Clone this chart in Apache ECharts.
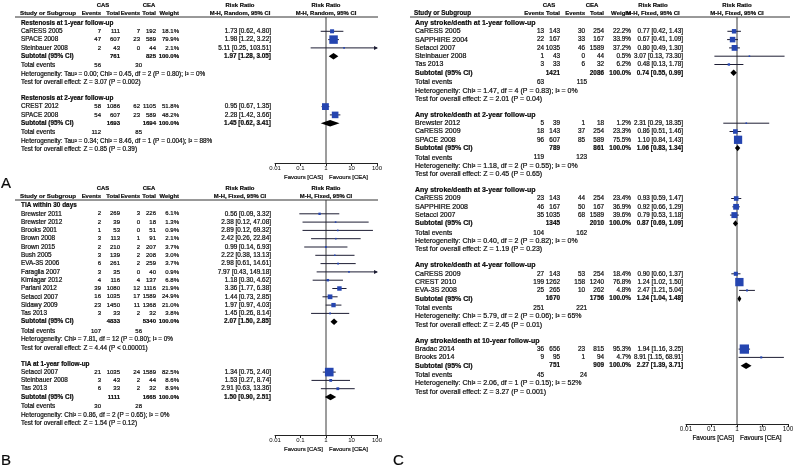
<!DOCTYPE html>
<html><head><meta charset="utf-8">
<script src="https://cdn.jsdelivr.net/npm/echarts@6/dist/echarts.min.js"></script>
<style>html,body{margin:0;padding:0;background:#fff}#c{width:800px;height:469px}</style>
</head><body><div id="c"></div>
<script>
// ---------------- DATA ----------------
// row: [study, CAS events, CAS total, CEA events, CEA total, weight %, RR, lower, upper]
// subtotal: [CAS total, CEA total, weight %, RR, lower, upper]; events: [CAS, CEA]
const axisTicks = [0.01, 0.1, 1, 10, 100];
const tickLabels = ["0.01", "0.1", "1", "10", "100"];

// Panel A — Restenosis (M-H, Random)
const restenosis1y = [
  ["CaRESS 2005", 7, 111, 7, 192, 18.1, 1.73, 0.62, 4.80],
  ["SPACE 2008", 47, 607, 23, 589, 79.9, 1.98, 1.22, 3.22],
  ["Steinbauer 2008", 2, 43, 0, 44, 2.1, 5.11, 0.25, 103.51]
];
const restenosis1ySub = [761, 825, 100.0, 1.97, 1.28, 3.05];
const restenosis1yEv = [56, 30];
const restenosis1yStats = ["Heterogeneity: Tau² = 0.00; Chi² = 0.45, df = 2 (P = 0.80); I² = 0%", "Test for overall effect: Z = 3.07 (P = 0.002)"];

const restenosis2y = [
  ["CREST 2012", 58, 1086, 62, 1105, 51.8, 0.95, 0.67, 1.35],
  ["SPACE 2008", 54, 607, 23, 589, 48.2, 2.28, 1.42, 3.66]
];
const restenosis2ySub = [1693, 1694, 100.0, 1.45, 0.62, 3.41];
const restenosis2yEv = [112, 85];
const restenosis2yStats = ["Heterogeneity: Tau² = 0.34; Chi² = 8.46, df = 1 (P = 0.004); I² = 88%", "Test for overall effect: Z = 0.85 (P = 0.39)"];

// Panel B — TIA (M-H, Fixed)
const tia30d = [
  ["Brewster 2011", 2, 269, 3, 226, 6.1, 0.56, 0.09, 3.32],
  ["Brewster 2012", 2, 39, 0, 18, 1.3, 2.38, 0.12, 47.08],
  ["Brooks 2001", 1, 53, 0, 51, 0.9, 2.89, 0.12, 69.32],
  ["Brown 2008", 3, 113, 1, 91, 2.1, 2.42, 0.26, 22.84],
  ["Brown 2015", 2, 210, 2, 207, 3.7, 0.99, 0.14, 6.93],
  ["Bush 2005", 3, 139, 2, 208, 3.0, 2.22, 0.38, 13.13],
  ["EVA-3S 2006", 6, 261, 2, 259, 3.7, 2.98, 0.61, 14.61],
  ["Faraglia 2007", 3, 35, 0, 40, 0.9, 7.97, 0.43, 149.18],
  ["Kimiagar 2012", 4, 116, 4, 137, 6.8, 1.18, 0.30, 4.62],
  ["Parlani 2012", 39, 1080, 12, 1116, 21.9, 3.36, 1.77, 6.38],
  ["Setacci 2007", 16, 1035, 17, 1589, 24.9, 1.44, 0.73, 2.85],
  ["Sidawy 2009", 23, 1450, 11, 1368, 21.0, 1.97, 0.97, 4.03],
  ["Tas 2013", 3, 33, 2, 32, 3.8, 1.45, 0.26, 8.14]
];
const tia30dSub = [4833, 5340, 100.0, 2.07, 1.50, 2.85];
const tia30dEv = [107, 56];
const tia30dStats = ["Heterogeneity: Chi² = 7.81, df = 12 (P = 0.80); I² = 0%", "Test for overall effect: Z = 4.44 (P < 0.00001)"];

const tia1y = [
  ["Setacci 2007", 21, 1035, 24, 1589, 82.5, 1.34, 0.75, 2.40],
  ["Steinbauer 2008", 3, 43, 2, 44, 8.6, 1.53, 0.27, 8.74],
  ["Tas 2013", 6, 33, 2, 32, 8.9, 2.91, 0.63, 13.36]
];
const tia1ySub = [1111, 1665, 100.0, 1.50, 0.90, 2.51];
const tia1yEv = [30, 28];
const tia1yStats = ["Heterogeneity: Chi² = 0.86, df = 2 (P = 0.65); I² = 0%", "Test for overall effect: Z = 1.54 (P = 0.12)"];

// Panel C — Any stroke/death (M-H, Fixed)
const sd1y = [
  ["CaRESS 2005", 13, 143, 30, 254, 22.2, 0.77, 0.42, 1.43],
  ["SAPPHIRE 2004", 22, 167, 33, 167, 33.9, 0.67, 0.41, 1.09],
  ["Setacci 2007", 24, 1035, 46, 1589, 37.2, 0.80, 0.49, 1.30],
  ["Steinbauer 2008", 1, 43, 0, 44, 0.5, 3.07, 0.13, 73.30],
  ["Tas 2013", 3, 33, 6, 32, 6.2, 0.48, 0.13, 1.78]
];
const sd1ySub = [1421, 2086, 100.0, 0.74, 0.55, 0.99];
const sd1yEv = [63, 115];
const sd1yStats = ["Heterogeneity: Chi² = 1.47, df = 4 (P = 0.83); I² = 0%", "Test for overall effect: Z = 2.01 (P = 0.04)"];

const sd2y = [
  ["Brewster 2012", 5, 39, 1, 18, 1.2, 2.31, 0.29, 18.35],
  ["CaRESS 2009", 18, 143, 37, 254, 23.3, 0.86, 0.51, 1.46],
  ["SPACE 2008", 96, 607, 85, 589, 75.5, 1.10, 0.84, 1.43]
];
const sd2ySub = [789, 861, 100.0, 1.06, 0.83, 1.34];
const sd2yEv = [119, 123];
const sd2yStats = ["Heterogeneity: Chi² = 1.18, df = 2 (P = 0.55); I² = 0%", "Test for overall effect: Z = 0.45 (P = 0.65)"];

const sd3y = [
  ["CaRESS 2009", 23, 143, 44, 254, 23.4, 0.93, 0.59, 1.47],
  ["SAPPHIRE 2008", 46, 167, 50, 167, 36.9, 0.92, 0.66, 1.29],
  ["Setacci 2007", 35, 1035, 68, 1589, 39.6, 0.79, 0.53, 1.18]
];
const sd3ySub = [1345, 2010, 100.0, 0.87, 0.69, 1.09];
const sd3yEv = [104, 162];
const sd3yStats = ["Heterogeneity: Chi² = 0.40, df = 2 (P = 0.82); I² = 0%", "Test for overall effect: Z = 1.19 (P = 0.23)"];

const sd4y = [
  ["CaRESS 2009", 27, 143, 53, 254, 18.4, 0.90, 0.60, 1.37],
  ["CREST 2010", 199, 1262, 158, 1240, 76.8, 1.24, 1.02, 1.50],
  ["EVA-3S 2008", 25, 265, 10, 262, 4.8, 2.47, 1.21, 5.04]
];
const sd4ySub = [1670, 1756, 100.0, 1.24, 1.04, 1.48];
const sd4yEv = [251, 221];
const sd4yStats = ["Heterogeneity: Chi² = 5.79, df = 2 (P = 0.06); I² = 65%", "Test for overall effect: Z = 2.45 (P = 0.01)"];

const sd10y = [
  ["Bradac 2014", 36, 656, 23, 815, 95.3, 1.94, 1.16, 3.25],
  ["Brooks 2014", 9, 95, 1, 94, 4.7, 8.91, 1.15, 68.91]
];
const sd10ySub = [751, 909, 100.0, 2.27, 1.39, 3.71];
const sd10yEv = [45, 24];
const sd10yStats = ["Heterogeneity: Chi² = 2.06, df = 1 (P = 0.15); I² = 52%", "Test for overall effect: Z = 3.27 (P = 0.001)"];

// ---------------- LAYOUT ----------------
const FONT = '"Liberation Sans", Arial, sans-serif';
const INK = '#0a0a0a';
const ROW = 8.3, SUBGAP = 9.5, GAP = 16;
const colsL = { name: 21, casEv: 101, casTot: 120, ceaEv: 140, ceaTot: 156, wt: 179, rr: 271, cas: 103, cea: 149, rrHead: 240,
  plotL: 275, plotR: 377, lineL: 15, lineR: 378, fs: 6.4, nfs: 6.0, rfs: 6.4, hfs: 5.9 };
const colsR = { name: 415, casEv: 544, casTot: 560, ceaEv: 585, ceaTot: 604, wt: 631, rr: 683, cas: 549, cea: 592, rrHead: 653,
  plotL: 686, plotR: 788, lineL: 410, lineR: 790, fs: 7.0, nfs: 6.4, rfs: 6.3, hfs: 6.0 };

const panels = [
  { cols: colsL, method: "M-H, Random, 95% CI", headY: 5, subY: 13.3, lineY: 17, firstY: 23, axisY: 163,
    groups: [
      { title: "Restenosis at 1-year follow-up", rows: restenosis1y, sub: restenosis1ySub, ev: restenosis1yEv, stats: restenosis1yStats },
      { title: "Restenosis at 2-year follow-up", rows: restenosis2y, sub: restenosis2ySub, ev: restenosis2yEv, stats: restenosis2yStats }
    ] },
  { cols: colsL, method: "M-H, Fixed, 95% CI", headY: 188, subY: 196.3, lineY: 200, firstY: 205.5, axisY: 435,
    groups: [
      { title: "TIA within 30 days", rows: tia30d, sub: tia30dSub, ev: tia30dEv, stats: tia30dStats },
      { title: "TIA at 1-year follow-up", rows: tia1y, sub: tia1ySub, ev: tia1yEv, stats: tia1yStats }
    ] },
  { cols: colsR, method: "M-H, Fixed, 95% CI", headY: 5, subY: 13.3, lineY: 17, firstY: 23, axisY: 424,
    groups: [
      { title: "Any stroke/death at 1-year follow-up", rows: sd1y, sub: sd1ySub, ev: sd1yEv, stats: sd1yStats },
      { title: "Any stroke/death at 2-year follow-up", rows: sd2y, sub: sd2ySub, ev: sd2yEv, stats: sd2yStats },
      { title: "Any stroke/death at 3-year follow-up", rows: sd3y, sub: sd3ySub, ev: sd3yEv, stats: sd3yStats },
      { title: "Any stroke/death at 4-year follow-up", rows: sd4y, sub: sd4ySub, ev: sd4yEv, stats: sd4yStats },
      { title: "Any stroke/death at 10-year follow-up", rows: sd10y, sub: sd10ySub, ev: sd10yEv, stats: sd10yStats }
    ] }
];

// ---------------- BUILD ----------------
const graphics = [];
const grids = [], xAxes = [], yAxes = [], series = [];

function txt(x, y, text, align, bold, fs) {
  graphics.push({
    type: 'text', x: x, y: y, silent: true, z: 10,
    style: { text: String(text), textAlign: align, align: align, textVerticalAlign: 'middle', verticalAlign: 'middle',
      font: (bold ? 'bold ' : '') + fs + 'px ' + FONT, fill: INK, stroke: INK, lineWidth: 0.2 }
  });
}
const ci = (rr, lo, hi) => rr.toFixed(2) + ' [' + lo.toFixed(2) + ', ' + hi.toFixed(2) + ']';

function renderForest(params, api) {
  const est = api.value(0), lo = api.value(1), hi = api.value(2), y = api.value(3), w = api.value(4), kind = api.value(5);
  const pE = api.coord([est, y]);
  const pL = api.coord([Math.max(lo, axisTicks[0]), y]);
  const pH = api.coord([Math.min(hi, axisTicks[axisTicks.length - 1]), y]);
  const yy = pE[1];
  const ch = [];
  if (kind === 0) {
    ch.push({ type: 'line', shape: { x1: pL[0], y1: yy, x2: pH[0], y2: yy }, style: { stroke: '#1d1d33', lineWidth: 1 } });
    if (hi > axisTicks[axisTicks.length - 1]) {
      ch.push({ type: 'polygon', shape: { points: [[pH[0] + 1, yy], [pH[0] - 3, yy - 2], [pH[0] - 3, yy + 2]] }, style: { fill: '#1d1d33' } });
    }
    const s = Math.max(1.6, 0.95 * Math.sqrt(w));
    ch.push({ type: 'rect', shape: { x: pE[0] - s / 2, y: yy - s / 2, width: s, height: s }, style: { fill: '#2545b0' } });
  } else {
    ch.push({ type: 'polygon', shape: { points: [[pL[0], yy], [pE[0], yy - 3.2], [pH[0], yy], [pE[0], yy + 3.2]] }, style: { fill: '#000' } });
  }
  return { type: 'group', children: ch };
}

panels.forEach((p, gi) => {
  const c = p.cols, fs = c.fs, nfs = c.nfs, rfs = c.rfs, hfs = c.hfs;
  const xOne = (c.plotL + c.plotR) / 2;
  // headers
  txt(c.cas, p.headY, 'CAS', 'center', true, hfs);
  txt(c.cea, p.headY, 'CEA', 'center', true, hfs);
  txt(c.rrHead, p.headY, 'Risk Ratio', 'center', true, hfs);
  txt(xOne, p.headY, 'Risk Ratio', 'center', true, hfs);
  txt(c.name - 1, p.subY, 'Study or Subgroup', 'left', true, hfs + 0.3);
  txt(c.casEv, p.subY, 'Events', 'right', true, hfs);
  txt(c.casTot, p.subY, 'Total', 'right', true, hfs);
  txt(c.ceaEv, p.subY, 'Events', 'right', true, hfs);
  txt(c.ceaTot, p.subY, 'Total', 'right', true, hfs);
  txt(c.wt, p.subY, 'Weight', 'right', true, hfs);
  txt(c.rrHead, p.subY, p.method, 'center', true, hfs);
  txt(xOne, p.subY, p.method, 'center', true, hfs);
  graphics.push({ type: 'line', silent: true, shape: { x1: c.lineL, y1: p.lineY, x2: c.lineR, y2: p.lineY }, style: { stroke: '#333', lineWidth: 1 } });

  const data = [];
  let y = p.firstY;
  p.groups.forEach((g, k) => {
    if (k > 0) y += GAP;
    txt(c.name, y, g.title, 'left', true, fs);
    g.rows.forEach(r => {
      y += ROW;
      txt(c.name, y, r[0], 'left', false, fs);
      txt(c.casEv, y, r[1], 'right', false, nfs);
      txt(c.casTot, y, r[2], 'right', false, nfs);
      txt(c.ceaEv, y, r[3], 'right', false, nfs);
      txt(c.ceaTot, y, r[4], 'right', false, nfs);
      txt(c.wt, y, r[5].toFixed(1) + '%', 'right', false, nfs);
      txt(c.rr, y, ci(r[6], r[7], r[8]), 'right', false, rfs);
      data.push([r[6], r[7], r[8], y, r[5], 0]);
    });
    y += ROW;
    const s = g.sub;
    txt(c.name, y, 'Subtotal (95% CI)', 'left', true, fs);
    txt(c.casTot, y, s[0], 'right', true, nfs);
    txt(c.ceaTot, y, s[1], 'right', true, nfs);
    txt(c.wt, y, s[2].toFixed(1) + '%', 'right', true, nfs);
    txt(c.rr, y, ci(s[3], s[4], s[5]), 'right', true, rfs);
    data.push([s[3], s[4], s[5], y, s[2], 1]);
    y += SUBGAP;
    txt(c.name, y, 'Total events', 'left', false, fs);
    txt(c.casEv, y, g.ev[0], 'right', false, nfs);
    txt(c.ceaEv + 2, y, g.ev[1], 'right', false, nfs);
    y += ROW;
    txt(c.name, y, g.stats[0], 'left', false, fs);
    y += ROW;
    txt(c.name, y, g.stats[1], 'left', false, fs);
  });

  grids.push({ left: c.plotL, top: p.lineY, width: c.plotR - c.plotL, height: p.axisY - p.lineY });
  xAxes.push({
    type: 'log', logBase: 10, gridIndex: gi, min: axisTicks[0], max: axisTicks[axisTicks.length - 1],
    axisLine: { lineStyle: { color: '#222', width: 1 } },
    axisTick: { show: true, length: 3, inside: false, lineStyle: { color: '#222' } },
    minorTick: { show: false }, splitLine: { show: false },
    axisLabel: { fontSize: nfs, color: INK, margin: 2.5, fontFamily: 'Liberation Sans',
      formatter: v => { const i = axisTicks.findIndex(t => Math.abs(Math.log10(t) - Math.log10(v)) < 1e-6); return i >= 0 ? tickLabels[i] : ''; } }
  });
  yAxes.push({ type: 'value', gridIndex: gi, min: p.lineY, max: p.axisY, inverse: true, show: false });
  series.push({ type: 'line', xAxisIndex: gi, yAxisIndex: gi, silent: true, symbol: 'none', z: 1,
    lineStyle: { color: '#3a3a3a', width: 1 }, data: [[1, p.lineY], [1, p.axisY]] });
  series.push({ type: 'custom', xAxisIndex: gi, yAxisIndex: gi, silent: true, z: 5, renderItem: renderForest,
    encode: { x: [0, 1, 2], y: 3 }, data: data, clip: false });
  txt(xOne - 3, p.axisY + 14, 'Favours [CAS]', 'right', false, nfs);
  txt(xOne + 3, p.axisY + 14, 'Favours [CEA]', 'left', false, nfs);
});

txt(1, 184, 'A', 'left', false, 15);
txt(1, 461, 'B', 'left', false, 15);
txt(393, 461, 'C', 'left', false, 15);

const chart = echarts.init(document.getElementById('c'), null, { renderer: 'canvas' });
chart.setOption({ animation: false, backgroundColor: '#fff', grid: grids, xAxis: xAxes, yAxis: yAxes, series: series, graphic: { elements: graphics } });
</script></body></html>
